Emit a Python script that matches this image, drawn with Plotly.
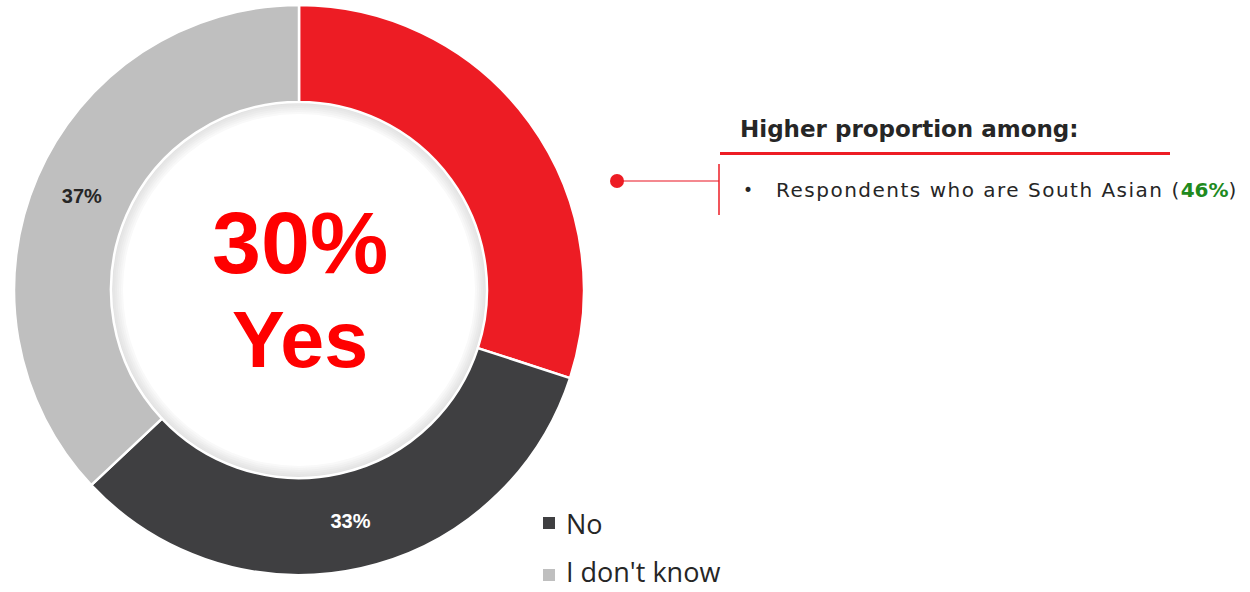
import plotly.graph_objects as go

W, H = 1250, 592

categories = ["Yes", "No", "I don't know"]
values = [30, 33, 37]
slice_colors = ["#ED1C24", "#3F3F41", "#BFBFBF"]
label_colors = ["#FFFFFF", "#FFFFFF", "#262626"]
legend_items = ["No", "I don't know"]
legend_colors = ["#3F3F41", "#BFBFBF"]
headline_value = "30%"
headline_label = "Yes"
callout_title = "Higher proportion among:"
callout_text = "Respondents who are South Asian"
callout_value = "46%"


def px(x):
    return x / W


def py(y):
    return 1 - y / H


cx, cy, R = 299, 290, 285
hole_r = 188

fig = go.Figure()
fig.add_trace(go.Pie(
    labels=categories,
    values=values,
    sort=False,
    direction="clockwise",
    rotation=0,
    hole=hole_r / R,
    marker=dict(colors=slice_colors, line=dict(color="#FFFFFF", width=2.5)),
    texttemplate=["", "<b>%{value}%</b>", "<b>%{value}%</b>"],
    textposition="inside",
    insidetextorientation="horizontal",
    insidetextfont=dict(family="Liberation Sans, Arial", size=20, color=label_colors),
    showlegend=False,
    hoverinfo="label+percent",
    domain=dict(x=[px(cx - R), px(cx + R)], y=[py(cy + R), py(cy - R)]),
))

shapes = []
# soft shadow ring inside the hole
ring = [(188, "#E2E2E2"), (186, "#E6E6E6"), (184, "#EAEAEA"), (182, "#EFEFEF"),
        (180, "#F4F4F4"), (178, "#F9F9F9"), (176, "#FFFFFF")]
for r, col in ring:
    shapes.append(dict(type="circle", xref="paper", yref="paper",
                       x0=px(cx - r), x1=px(cx + r), y0=py(cy + r), y1=py(cy - r),
                       fillcolor=col, line=dict(width=0), layer="below"))

# callout graphics
shapes.append(dict(type="line", xref="paper", yref="paper",
                   x0=px(720), x1=px(1170), y0=py(153.5), y1=py(153.5),
                   line=dict(color="#ED1C24", width=3)))
shapes.append(dict(type="line", xref="paper", yref="paper",
                   x0=px(619), x1=px(719), y0=py(181), y1=py(181),
                   line=dict(color="#F0606A", width=1.5)))
shapes.append(dict(type="line", xref="paper", yref="paper",
                   x0=px(719), x1=px(719), y0=py(164), y1=py(215),
                   line=dict(color="#ED1C24", width=1.5)))
shapes.append(dict(type="circle", xref="paper", yref="paper",
                   x0=px(610), x1=px(624), y0=py(188), y1=py(174),
                   fillcolor="#ED1C24", line=dict(width=0)))

annotations = []
annotations.append(dict(text=f"<b>{headline_value}</b>", x=px(300), y=py(242), xref="paper", yref="paper",
                        showarrow=False, xanchor="center", yanchor="middle",
                        font=dict(family="Liberation Sans, Arial", size=88, color="#FF0000")))
annotations.append(dict(text=f"<b>{headline_label}</b>", x=px(300), y=py(339), xref="paper", yref="paper",
                        showarrow=False, xanchor="center", yanchor="middle",
                        font=dict(family="Liberation Sans, Arial", size=79, color="#FF0000")))

# legend (manual)
legend_square_y = [523, 575]
legend_text_pos = [(py(523), "middle"), (py(592), "bottom")]
for name, col, yy, (ty, anchor) in zip(legend_items, legend_colors, legend_square_y, legend_text_pos):
    shapes.append(dict(type="rect", xref="paper", yref="paper",
                       x0=px(543), x1=px(555), y0=py(yy + 6), y1=py(yy - 6),
                       fillcolor=col, line=dict(width=0)))
    annotations.append(dict(text=name, x=px(564), y=ty, xref="paper", yref="paper",
                            showarrow=False, xanchor="left", yanchor=anchor,
                            font=dict(family="Open Sans", size=27, color="#262626")))

annotations.append(dict(text=f"<b>{callout_title}</b>", x=px(738), y=py(129), xref="paper", yref="paper",
                        showarrow=False, xanchor="left", yanchor="middle",
                        font=dict(family="DejaVu Sans", size=23, color="#262626")))
annotations.append(dict(text="•", x=px(741), y=py(190), xref="paper", yref="paper",
                        showarrow=False, xanchor="left", yanchor="middle",
                        font=dict(family="DejaVu Sans", size=17, color="#262626")))
annotations.append(dict(text=(f"<span style='letter-spacing:1.5px'>{callout_text} (</span>"
                              f"<b><span style='color:#218A1E'>{callout_value}</span></b>)"),
                        x=px(774), y=py(190), xref="paper", yref="paper",
                        showarrow=False, xanchor="left", yanchor="middle",
                        font=dict(family="DejaVu Sans", size=20, color="#262626")))

fig.update_layout(
    width=W, height=H,
    margin=dict(l=0, r=0, t=0, b=0),
    paper_bgcolor="#FFFFFF",
    plot_bgcolor="#FFFFFF",
    shapes=shapes,
    annotations=annotations,
    showlegend=False,
)

fig.write_html("out.html", config={"displayModeBar": False},
               post_script="document.body.style.margin='0';document.body.style.overflow='hidden';")
